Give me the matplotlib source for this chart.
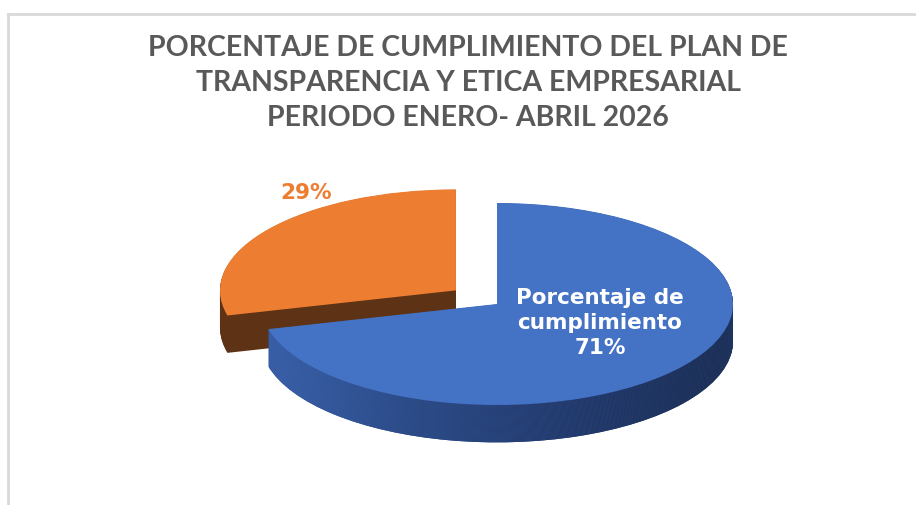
import numpy as np
import matplotlib
matplotlib.use("Agg")
import matplotlib.pyplot as plt
from matplotlib.colors import LinearSegmentedColormap
from matplotlib.lines import Line2D

TITLE = "PORCENTAJE DE CUMPLIMIENTO DEL PLAN DE\nTRANSPARENCIA Y ETICA EMPRESARIAL\nPERIODO ENERO- ABRIL 2026"
categories = ["Porcentaje de\ncumplimiento", "Pendiente"]
values = [71, 29]
explode = [0.0, 0.22]
top_colors = ["#4472C4", "#ED7D31"]
side_colors = ["#2b4a85", "#5e3214"]

DEPTH = 0.37
N_LAYERS = 40

fig = plt.figure(figsize=(9.16, 5.05), dpi=100)
fig.patch.set_facecolor("white")

# light chart frame (top + left edge visible)
fig.add_artist(Line2D([8 / 916, 1.0], [1 - 14 / 505, 1 - 14 / 505],
                      transform=fig.transFigure, color="#d9d9d9", lw=2))
fig.add_artist(Line2D([8 / 916, 8 / 916], [0.0, 1 - 14 / 505],
                      transform=fig.transFigure, color="#d9d9d9", lw=2))

ax = fig.add_axes([0, 0, 1, 1])
side_cmap = LinearSegmentedColormap.from_list(
    "side", ["#3f68b5", "#2c4b87", "#22396a", "#1a2a4c"])
grad = np.linspace(0, 1, 256).reshape(1, -1)

# side of the 3D pie: stacked layers, deepest first
for i, d in enumerate(np.linspace(DEPTH, 0.005, N_LAYERS)):
    z = 1 + i * 0.01
    wedges, _ = ax.pie(values, explode=explode, startangle=90, counterclock=False,
                       colors=side_colors, center=(0, -d), radius=1.0,
                       wedgeprops=dict(linewidth=0))
    for w in wedges:
        w.set_zorder(z)
    im = ax.imshow(grad, extent=[-1.0, 1.0, -1.6, 1.2], aspect="auto",
                   cmap=side_cmap, zorder=z + 0.001, interpolation="bilinear")
    im.set_clip_path(wedges[0])

# top face
wedges, _ = ax.pie(values, explode=explode, startangle=90, counterclock=False,
                   colors=top_colors, radius=1.0, wedgeprops=dict(linewidth=0))
for w in wedges:
    w.set_zorder(5)

# pixel-like mapping: 1 unit = 236 px wide, 101 px tall
ax.set_aspect("auto")
x0 = -497 / 236
ax.set_xlim(x0, x0 + 916 / 236)
y0 = -(505 - 304) / 101
ax.set_ylim(y0, y0 + 505 / 101)
ax.axis("off")

fig.text(468 / 916, 1 - 83 / 505, TITLE, ha="center", va="center",
         fontsize=20.5, fontweight="bold", color="#595959", family="Lato",
         linespacing=1.41)

lab_font = dict(fontsize=15.5, fontweight="bold", family="DejaVu Sans")
fig.text(600 / 916, 1 - 323 / 505, f"{categories[0]}\n{values[0]}%",
         ha="center", va="center", color="white", linespacing=1.34, **lab_font)
fig.text(306 / 916, 1 - 193 / 505, f"{values[1]}%",
         ha="center", va="center", color="#ED7D31", **lab_font)

fig.savefig("out.png", dpi=100)
